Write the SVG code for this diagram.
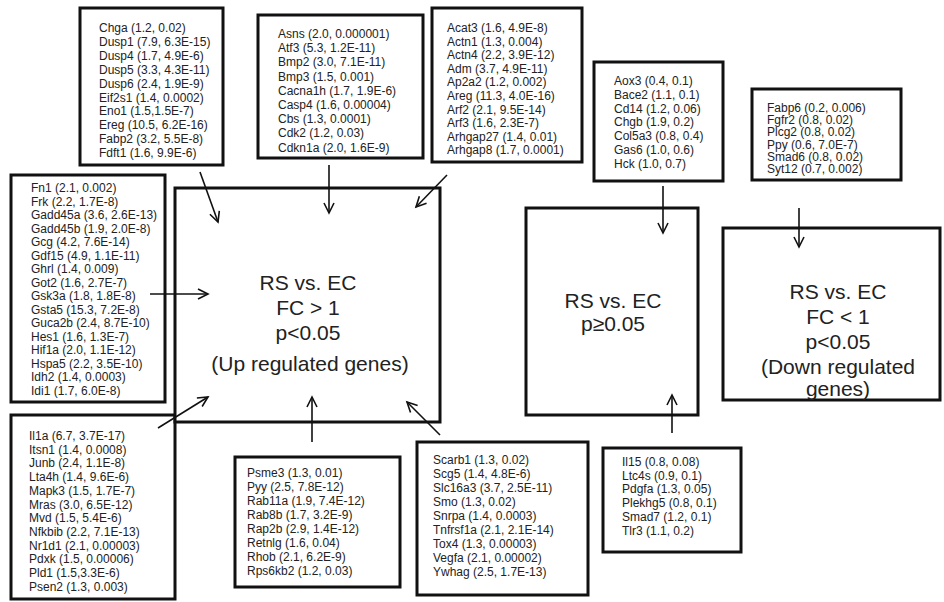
<svg xmlns="http://www.w3.org/2000/svg" width="944" height="602" viewBox="0 0 944 602">
<defs>
<style>
.box{fill:#fff;stroke:#111;stroke-width:3}
.g{font-family:"Liberation Sans",Arial,sans-serif;font-size:12px;fill:#222}
.t{font-family:"Liberation Sans",Arial,sans-serif;font-size:21px;fill:#222;text-anchor:middle}
.c{stroke:#111;stroke-width:1.6;fill:none;marker-end:url(#ah)}
</style>
<marker id="ah" markerUnits="userSpaceOnUse" markerWidth="14" markerHeight="14" refX="11" refY="6" orient="auto">
<path d="M1,1 L11,6 L1,11" fill="none" stroke="#111" stroke-width="1.6"/>
</marker>
</defs>
<rect width="944" height="602" fill="#fff"/>

<g id="box-chga">
<rect class="box" x="80" y="8" width="143" height="157"/>
<text class="g" x="99" y="32">Chga (1.2, 0.02)</text>
<text class="g" x="99" y="45.9">Dusp1 (7.9, 6.3E-15)</text>
<text class="g" x="99" y="59.8">Dusp4 (1.7, 4.9E-6)</text>
<text class="g" x="99" y="73.7">Dusp5 (3.3, 4.3E-11)</text>
<text class="g" x="99" y="87.6">Dusp6 (2.4, 1.9E-9)</text>
<text class="g" x="99" y="101.5">Eif2s1 (1.4, 0.0002)</text>
<text class="g" x="99" y="115.4">Eno1 (1.5,1.5E-7)</text>
<text class="g" x="99" y="129.3">Ereg (10.5, 6.2E-16)</text>
<text class="g" x="99" y="143.2">Fabp2 (3.2, 5.5E-8)</text>
<text class="g" x="99" y="157.1">Fdft1 (1.6, 9.9E-6)</text>
</g>

<g id="box-asns">
<rect class="box" x="258" y="15" width="165" height="143"/>
<text class="g" x="278" y="38">Asns (2.0, 0.000001)</text>
<text class="g" x="278" y="52.2">Atf3 (5.3, 1.2E-11)</text>
<text class="g" x="278" y="66.4">Bmp2 (3.0, 7.1E-11)</text>
<text class="g" x="278" y="80.6">Bmp3 (1.5, 0.001)</text>
<text class="g" x="278" y="94.8">Cacna1h (1.7, 1.9E-6)</text>
<text class="g" x="278" y="109">Casp4 (1.6, 0.00004)</text>
<text class="g" x="278" y="123.2">Cbs (1.3, 0.0001)</text>
<text class="g" x="278" y="137.4">Cdk2 (1.2, 0.03)</text>
<text class="g" x="278" y="151.6">Cdkn1a (2.0, 1.6E-9)</text>
</g>

<g id="box-acat3">
<rect class="box" x="432" y="8" width="150" height="154"/>
<text class="g" x="447" y="32">Acat3 (1.6, 4.9E-8)</text>
<text class="g" x="447" y="45.6">Actn1 (1.3, 0.004)</text>
<text class="g" x="447" y="59.2">Actn4 (2.2, 3.9E-12)</text>
<text class="g" x="447" y="72.8">Adm (3.7, 4.9E-11)</text>
<text class="g" x="447" y="86.4">Ap2a2 (1.2, 0.002)</text>
<text class="g" x="447" y="100">Areg (11.3, 4.0E-16)</text>
<text class="g" x="447" y="113.6">Arf2 (2.1, 9.5E-14)</text>
<text class="g" x="447" y="127.2">Arf3 (1.6, 2.3E-7)</text>
<text class="g" x="447" y="140.8">Arhgap27 (1.4, 0.01)</text>
<text class="g" x="447" y="154.4">Arhgap8 (1.7, 0.0001)</text>
</g>

<g id="box-fn1">
<rect class="box" x="11" y="175" width="154" height="227"/>
<text class="g" x="31" y="192">Fn1 (2.1, 0.002)</text>
<text class="g" x="31" y="205.5">Frk (2.2, 1.7E-8)</text>
<text class="g" x="31" y="219">Gadd45a (3.6, 2.6E-13)</text>
<text class="g" x="31" y="232.5">Gadd45b (1.9, 2.0E-8)</text>
<text class="g" x="31" y="246">Gcg (4.2, 7.6E-14)</text>
<text class="g" x="31" y="259.5">Gdf15 (4.9, 1.1E-11)</text>
<text class="g" x="31" y="273">Ghrl (1.4, 0.009)</text>
<text class="g" x="31" y="286.5">Got2 (1.6, 2.7E-7)</text>
<text class="g" x="31" y="300">Gsk3a (1.8, 1.8E-8)</text>
<text class="g" x="31" y="313.5">Gsta5 (15.3, 7.2E-8)</text>
<text class="g" x="31" y="327">Guca2b (2.4, 8.7E-10)</text>
<text class="g" x="31" y="340.5">Hes1 (1.6, 1.3E-7)</text>
<text class="g" x="31" y="354">Hif1a (2.0, 1.1E-12)</text>
<text class="g" x="31" y="367.5">Hspa5 (2.2, 3.5E-10)</text>
<text class="g" x="31" y="381">Idh2 (1.4, 0.0003)</text>
<text class="g" x="31" y="394.5">Idi1 (1.7, 6.0E-8)</text>
</g>

<g id="box-il1a">
<rect class="box" x="11" y="415" width="164" height="184"/>
<text class="g" x="29" y="440">Il1a (6.7, 3.7E-17)</text>
<text class="g" x="29" y="453.7">Itsn1 (1.4, 0.0008)</text>
<text class="g" x="29" y="467.4">Junb (2.4, 1.1E-8)</text>
<text class="g" x="29" y="481.1">Lta4h (1.4, 9.6E-6)</text>
<text class="g" x="29" y="494.8">Mapk3 (1.5, 1.7E-7)</text>
<text class="g" x="29" y="508.5">Mras (3.0, 6.5E-12)</text>
<text class="g" x="29" y="522.2">Mvd (1.5, 5.4E-6)</text>
<text class="g" x="29" y="535.9">Nfkbib (2.2, 7.1E-13)</text>
<text class="g" x="29" y="549.6">Nr1d1 (2.1, 0.00003)</text>
<text class="g" x="29" y="563.3">Pdxk (1.5, 0.00006)</text>
<text class="g" x="29" y="577">Pld1 (1.5,3.3E-6)</text>
<text class="g" x="29" y="590.7">Psen2 (1.3, 0.003)</text>
</g>

<g id="box-up">
<rect class="box" x="175" y="188" width="265" height="234"/>
<text class="t" x="308" y="289.5">RS vs. EC</text>
<text class="t" x="308" y="314.5">FC &gt; 1</text>
<text class="t" x="308" y="339.5">p&lt;0.05</text>
<text class="t" x="310" y="370.5">(Up regulated genes)</text>
</g>

<g id="box-psme3">
<rect class="box" x="235" y="457" width="165" height="130"/>
<text class="g" x="247" y="477">Psme3 (1.3, 0.01)</text>
<text class="g" x="247" y="491">Pyy (2.5, 7.8E-12)</text>
<text class="g" x="247" y="505">Rab11a (1.9, 7.4E-12)</text>
<text class="g" x="247" y="519">Rab8b (1.7, 3.2E-9)</text>
<text class="g" x="247" y="533">Rap2b (2.9, 1.4E-12)</text>
<text class="g" x="247" y="547">Retnlg (1.6, 0.04)</text>
<text class="g" x="247" y="561">Rhob (2.1, 6.2E-9)</text>
<text class="g" x="247" y="575">Rps6kb2 (1.2, 0.03)</text>
</g>

<g id="box-scarb1">
<rect class="box" x="417" y="442" width="171" height="153"/>
<text class="g" x="433" y="464">Scarb1 (1.3, 0.02)</text>
<text class="g" x="433" y="478">Scg5 (1.4, 4.8E-6)</text>
<text class="g" x="433" y="492">Slc16a3 (3.7, 2.5E-11)</text>
<text class="g" x="433" y="506">Smo (1.3, 0.02)</text>
<text class="g" x="433" y="520">Snrpa (1.4, 0.0003)</text>
<text class="g" x="433" y="534">Tnfrsf1a (2.1, 2.1E-14)</text>
<text class="g" x="433" y="548">Tox4 (1.3, 0.00003)</text>
<text class="g" x="433" y="562">Vegfa (2.1, 0.00002)</text>
<text class="g" x="433" y="576">Ywhag (2.5, 1.7E-13)</text>
</g>

<g id="box-ns">
<rect class="box" x="526" y="208" width="172" height="207"/>
<text class="t" x="613" y="307.5">RS vs. EC</text>
<text class="t" x="613" y="330.5">p≥0.05</text>
</g>

<g id="box-aox3">
<rect class="box" x="594" y="62" width="129" height="119"/>
<text class="g" x="614" y="85">Aox3 (0.4, 0.1)</text>
<text class="g" x="614" y="98.8">Bace2 (1.1, 0.1)</text>
<text class="g" x="614" y="112.6">Cd14 (1.2, 0.06)</text>
<text class="g" x="614" y="126.4">Chgb (1.9, 0.2)</text>
<text class="g" x="614" y="140.2">Col5a3 (0.8, 0.4)</text>
<text class="g" x="614" y="154">Gas6 (1.0, 0.6)</text>
<text class="g" x="614" y="167.8">Hck (1.0, 0.7)</text>
</g>

<g id="box-il15">
<rect class="box" x="603" y="448" width="138" height="104"/>
<text class="g" x="622" y="466">Il15 (0.8, 0.08)</text>
<text class="g" x="622" y="479.7">Ltc4s (0.9, 0.1)</text>
<text class="g" x="622" y="493.4">Pdgfa (1.3, 0.05)</text>
<text class="g" x="622" y="507.1">Plekhg5 (0.8, 0.1)</text>
<text class="g" x="622" y="520.8">Smad7 (1.2, 0.1)</text>
<text class="g" x="622" y="534.5">Tlr3 (1.1, 0.2)</text>
</g>

<g id="box-fabp6">
<rect class="box" x="752" y="89" width="149" height="91"/>
<text class="g" x="767" y="112">Fabp6 (0.2, 0.006)</text>
<text class="g" x="767" y="124.2">Fgfr2 (0.8, 0.02)</text>
<text class="g" x="767" y="136.4">Plcg2 (0.8, 0.02)</text>
<text class="g" x="767" y="148.6">Ppy (0.6, 7.0E-7)</text>
<text class="g" x="767" y="160.8">Smad6 (0.8, 0.02)</text>
<text class="g" x="767" y="173">Syt12 (0.7, 0.002)</text>
</g>

<g id="box-down">
<rect class="box" x="723" y="228" width="217" height="172"/>
<text class="t" x="838" y="298.5">RS vs. EC</text>
<text class="t" x="838" y="323.5">FC &lt; 1</text>
<text class="t" x="838" y="348.5">p&lt;0.05</text>
<text class="t" x="838" y="373.5">(Down regulated</text>
<text class="t" x="838" y="395.5">genes)</text>
</g>

<g id="connectors">
<line class="c" x1="200" y1="172" x2="218" y2="222"/>
<line class="c" x1="329" y1="165" x2="329" y2="213"/>
<line class="c" x1="447" y1="175" x2="416" y2="207"/>
<line class="c" x1="150" y1="294" x2="208" y2="294"/>
<line class="c" x1="158" y1="428" x2="208" y2="397"/>
<line class="c" x1="312" y1="442" x2="312" y2="397"/>
<line class="c" x1="440" y1="435" x2="407" y2="402"/>
<line class="c" x1="663" y1="186" x2="663" y2="233"/>
<line class="c" x1="672" y1="433" x2="672" y2="395"/>
<line class="c" x1="799" y1="208" x2="799" y2="247"/>
</g>
</svg>
